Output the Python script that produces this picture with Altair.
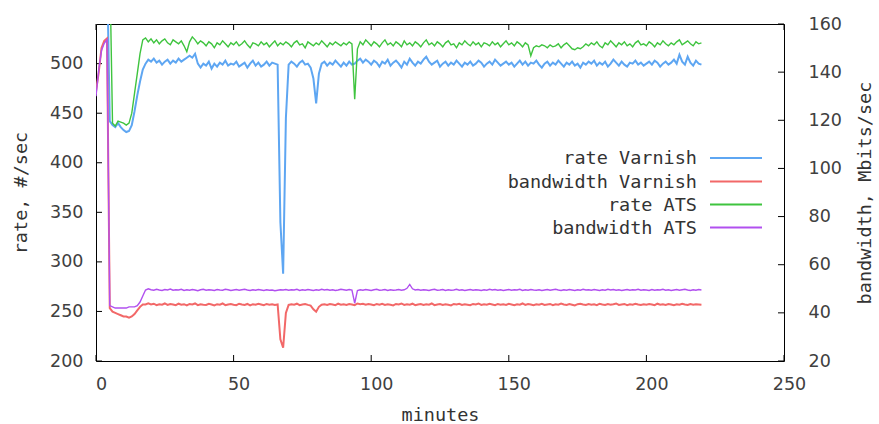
import altair as alt
import pandas as pd

minutes = list(range(0, 221))

rate_varnish = [
    600, 600, 600, 600, 600,
    442, 438, 436, 440, 436, 433, 431, 432, 438,
    452, 468, 482, 494, 500, 504,
    502, 505, 501, 503, 499, 502, 504, 500, 503, 501,
    505, 502, 504, 506, 508, 506, 510, 500, 496, 500,
    498, 502, 495, 500, 497, 501, 499, 503, 498, 500,
    499, 502, 497, 499, 501, 496, 500, 503, 498, 501,
    497, 499, 502, 498, 501, 500, 499, 340, 288, 445,
    499, 502, 500, 497, 501, 503, 499, 500, 496, 485,
    460, 490, 500, 502, 498, 501, 499, 503, 500, 497,
    501, 498, 502, 499, 500, 503, 505, 501, 504, 502,
    499, 503, 501, 497, 502, 500, 504, 498, 501, 503,
    500, 496, 502, 499, 505, 501, 498, 502, 500, 504,
    507, 502, 499, 501, 503, 497, 500, 502, 498, 501,
    499, 503, 500, 497, 501, 499, 502, 498, 500, 503,
    501, 497, 500, 502, 499, 504, 501, 498, 500, 502,
    499, 501, 497, 500, 503, 499, 502, 498, 501, 500,
    503, 499, 496, 500, 502, 498, 501, 499, 503, 500,
    497, 501, 499, 502, 498, 500, 496, 501, 499, 502,
    500, 503, 498, 501, 499, 502, 497, 500, 504, 501,
    498, 502, 499, 497, 501, 500, 503, 499, 501, 498,
    500, 502, 499, 503, 501, 497, 500, 502, 499, 501,
    504, 500, 509, 502, 499, 507, 501, 498, 503, 500,
    499,
]

bw_varnish = [
    132, 140, 150, 153, 154,
    42, 40.5, 40, 39.5, 39, 38.5, 38.5, 38, 38.5,
    39.5, 41, 42.5, 43.5, 43.5, 44,
    43.5, 43.8, 43.2, 43.6, 43.4, 43.9, 43.3, 43.7, 43.5, 43.2,
    43.8, 43.4, 43.6, 43.1, 43.7, 43.5, 43.9, 43.2, 43.6, 43.4,
    43.3, 43.8, 43.5, 43.1, 43.6, 43.4, 43.9, 43.2, 43.5, 43.7,
    43.4, 43.2, 43.8, 43.5, 43.3, 43.7, 43.1, 43.6, 43.4, 43.8,
    43.5, 43.2, 43.7, 43.4, 43.6, 43.3, 43.5, 29, 25.5, 40,
    43.3, 43.6, 43.4, 43.8, 43.2, 43.5, 43.7, 43.3, 43.0, 41.5,
    40.5, 42.5, 43.4, 43.6, 43.3, 43.7, 43.5, 43.2, 43.8, 43.4,
    43.6, 43.3, 43.7, 43.5, 43.2, 43.9, 43.6, 43.8, 43.4, 43.7,
    43.5, 43.2, 43.7, 43.4, 43.8, 43.3, 43.6, 43.4, 43.1, 43.7,
    43.5, 43.9, 43.3, 43.6, 43.4, 43.8, 43.2, 43.5, 43.7, 43.3,
    43.6, 43.4, 43.9, 43.2, 43.5, 43.7, 43.3, 43.6, 43.4, 43.1,
    43.7, 43.5, 43.8, 43.3, 43.6, 43.4, 43.2, 43.7, 43.5, 43.9,
    43.3, 43.6, 43.4, 43.8, 43.5, 43.2, 43.7, 43.4, 43.6, 43.3,
    43.8, 43.5, 43.2, 43.6, 43.4, 43.9, 43.3, 43.7, 43.5, 43.2,
    43.6, 43.4, 43.8, 43.3, 43.5, 43.7, 43.2, 43.6, 43.4, 43.9,
    43.5, 43.3, 43.7, 43.4, 43.1, 43.6, 43.8, 43.5, 43.3, 43.7,
    43.4, 43.6, 43.2, 43.8, 43.5, 43.3, 43.7, 43.4, 43.6, 43.9,
    43.3, 43.5, 43.7, 43.2, 43.6, 43.4, 43.8, 43.5, 43.3, 43.6,
    43.4, 43.7, 43.5, 43.2, 43.8, 43.4, 43.6, 43.3, 43.7, 43.5,
    43.2, 43.6, 43.4, 43.8, 43.5, 43.3, 43.7, 43.4, 43.6, 43.5,
    43.4,
]

rate_ats = [
    600, 600, 600, 600, 600, 600,
    440, 437, 442, 441, 440, 438, 440, 450,
    470, 490, 510, 524, 526, 522,
    525, 521, 524, 520, 523, 525, 521, 519, 524, 522,
    520, 523, 518, 512, 522, 527, 524, 520, 523, 521,
    518, 522, 520, 516, 521, 519, 523, 520, 517, 521,
    519, 522, 518, 520, 523, 519, 516, 521, 520, 518,
    522, 519, 521, 517, 520, 523, 518, 521, 519, 522,
    520, 517, 521, 523, 519, 520, 516, 522, 520, 518,
    521, 519, 523, 520, 517, 521, 519, 522, 520, 518,
    521, 519, 522, 520, 464, 515, 522, 519, 524, 521,
    518, 522, 520, 517, 521, 524, 519, 521, 518, 522,
    520, 517, 523, 519, 521, 518, 522, 520, 517, 521,
    524, 519, 521, 518, 522, 520, 517, 521, 523, 519,
    520, 516, 521, 519, 523, 520, 518, 522, 519, 521,
    517, 521, 520, 518, 522, 519, 521, 517, 520, 523,
    519, 521, 518, 522, 520, 517, 521, 519, 508, 516,
    518, 517, 519, 518, 516, 519, 517, 518, 520, 516,
    519, 521, 518, 515, 514, 516, 515, 517, 520, 518,
    521, 519, 522, 518, 516, 521, 519, 523, 520, 517,
    521, 519, 522, 518, 520, 517, 521, 523, 519, 520,
    518, 522, 520, 517, 521, 519, 523, 520, 518, 521,
    519, 522, 524, 519, 521, 523, 520, 518, 522, 520,
    521,
]

bw_ats = [
    130, 141, 149, 152, 153.5,
    43, 42.5, 42, 42, 42, 42, 42, 42.5, 42.5, 42.5, 43,
    44.5, 47, 49.5, 50,
    49.6, 49.4, 49.8, 49.5, 49.3, 49.7, 49.5, 49.9, 49.4, 49.6,
    49.5, 49.8, 49.3, 49.6, 49.4, 49.7, 49.5, 49.2, 49.6, 49.8,
    49.4, 49.6, 49.5, 49.3, 49.7, 49.5, 49.4, 49.8, 49.6, 49.3,
    49.5, 49.7, 49.4, 49.6, 49.8, 49.5, 49.3, 49.6, 49.4, 49.7,
    49.5, 49.3, 49.6, 49.4, 49.5, 49.2, 49.4, 49.6, 49.5, 49.7,
    49.4, 49.6, 49.5, 49.8, 49.3, 49.6, 49.4, 49.7, 49.5, 49.3,
    49.6, 49.4, 49.8, 49.5, 49.7, 49.4, 49.6, 49.3, 49.5, 49.8,
    49.6, 49.4, 49.7, 49.5, 44.0, 49.3, 49.6, 49.4, 49.7, 49.5,
    49.3, 49.6, 49.8, 49.4, 49.5, 49.7, 49.3, 49.6, 49.4, 49.5,
    49.7, 49.4, 49.6, 50.2, 51.8, 50.0, 49.5, 49.7, 49.4, 49.6,
    49.5, 49.3, 49.6, 49.8, 49.4, 49.5, 49.7, 49.3, 49.6, 49.4,
    49.5, 49.8, 49.4, 49.6, 49.3, 49.5, 49.7, 49.4, 49.6, 49.5,
    49.3, 49.6, 49.4, 49.8, 49.5, 49.7, 49.4, 49.6, 49.3, 49.5,
    49.7, 49.4, 49.6, 49.5, 49.8, 49.3, 49.6, 49.4, 49.7, 49.5,
    49.4, 49.6, 49.3, 49.5, 49.7, 49.4, 49.6, 49.8, 49.5, 49.3,
    49.6, 49.4, 49.7, 49.5, 49.3, 49.6, 49.4, 49.8, 49.5, 49.6,
    49.4, 49.7, 49.5, 49.3, 49.6, 49.4, 49.8, 49.5, 49.7, 49.4,
    49.6, 49.3, 49.5, 49.7, 49.4, 49.6, 49.5, 49.8, 49.4, 49.6,
    49.5, 49.3, 49.7, 49.4, 49.6, 49.5, 49.8, 49.4, 49.6, 49.3,
    49.5, 49.7, 49.4, 49.6, 49.8, 49.5, 49.3, 49.6, 49.4, 49.7,
    49.5,
]

for s in (rate_varnish, bw_varnish, rate_ats, bw_ats):
    assert len(s) == len(minutes), len(s)

series_names = ["rate Varnish", "bandwidth Varnish", "rate ATS", "bandwidth ATS"]
series_colors = ["#5ea6f2", "#f26868", "#3fc43f", "#b150ef"]
series_widths = [2.0, 2.0, 1.4, 1.4]

x_ticks = [0, 50, 100, 150, 200, 250]
rate_ticks = [200, 250, 300, 350, 400, 450, 500]
bw_ticks = [20, 40, 60, 80, 100, 120, 140, 160]

W, H = 688, 337
MONO = "DejaVu Sans Mono"
SANS = "DejaVu Sans"

df = pd.DataFrame({
    "minutes": minutes,
    "rate_varnish": rate_varnish,
    "bw_varnish": bw_varnish,
    "rate_ats": rate_ats,
    "bw_ats": bw_ats,
})

x_scale = alt.Scale(domain=[0, 250], nice=False, zero=False)
rate_scale = alt.Scale(domain=[200, 540], nice=False, zero=False)
bw_scale = alt.Scale(domain=[20, 160], nice=False, zero=False)

label_style = dict(labelFont=SANS, labelFontSize=17.5, labelColor="#404040",
                   titleFont=MONO, titleFontSize=18.5, titleFontWeight="normal",
                   titleColor="#333333", domain=False, ticks=False, tickSize=0,
                   grid=False, labelOverlap=False)

x_axis = alt.Axis(values=x_ticks, title="minutes", orient="bottom",
                  labelPadding=14, labelOffset=5, labelFlush=False,
                  titleX=344, titleY=53, titleAlign="center", titleBaseline="middle",
                  **label_style)
left_axis = alt.Axis(values=rate_ticks, title="rate, #/sec", orient="left",
                     labelPadding=13, titleAngle=270, titleX=-76, titleY=168.5,
                     titleAlign="center", titleBaseline="middle", **label_style)
right_axis = alt.Axis(values=bw_ticks, title="bandwidth, Mbits/sec", orient="right",
                      labelPadding=24, titleAngle=270, titleX=80, titleY=168.5,
                      titleAlign="center", titleBaseline="middle", **label_style)

X = alt.X("minutes:Q", scale=x_scale, axis=x_axis)
base = alt.Chart(df)


def line(field, idx, scale, axis):
    return base.mark_line(clip=True, color=series_colors[idx],
                          strokeWidth=series_widths[idx]).encode(
        x=X,
        y=alt.Y(f"{field}:Q", scale=scale, axis=axis),
    )


blue = line("rate_varnish", 0, rate_scale, left_axis)
green = line("rate_ats", 2, rate_scale, left_axis)
red = line("bw_varnish", 1, bw_scale, right_axis)
purple = line("bw_ats", 3, bw_scale, right_axis)

tick_len = 6
left_ticks = alt.Chart(pd.DataFrame({"v": rate_ticks})).mark_rule(color="black").encode(
    y=alt.Y("v:Q", scale=rate_scale, axis=left_axis), x=alt.value(0), x2=alt.value(tick_len))
right_ticks = alt.Chart(pd.DataFrame({"v": bw_ticks})).mark_rule(color="black").encode(
    y=alt.Y("v:Q", scale=bw_scale, axis=right_axis), x=alt.value(W), x2=alt.value(W - tick_len))
xt = pd.DataFrame({"v": x_ticks})
bottom_ticks = alt.Chart(xt).mark_rule(color="black").encode(
    x=alt.X("v:Q", scale=x_scale, axis=x_axis), y=alt.value(H), y2=alt.value(H - tick_len))
top_ticks = alt.Chart(xt).mark_rule(color="black").encode(
    x=alt.X("v:Q", scale=x_scale, axis=x_axis), y=alt.value(0), y2=alt.value(tick_len))

left_layer = alt.layer(blue, green, left_ticks, bottom_ticks, top_ticks)
right_layer = alt.layer(red, purple, right_ticks)

legend_layers = []
legend_y = [134, 157.5, 180.5, 203.5]
for i, name in enumerate(series_names):
    ldf = pd.DataFrame({"t": [name]})
    legend_layers.append(
        alt.Chart(ldf).mark_text(align="right", baseline="middle", font=MONO,
                                 fontSize=18.5, color="#333333").encode(
            text="t:N", x=alt.value(601), y=alt.value(legend_y[i])))
    legend_layers.append(
        alt.Chart(ldf).mark_rule(color=series_colors[i], strokeWidth=2).encode(
            x=alt.value(614), x2=alt.value(666), y=alt.value(legend_y[i])))

chart = alt.layer(left_layer, right_layer, *legend_layers).resolve_scale(
    y="independent"
).properties(
    width=W, height=H,
    padding={"left": 96, "top": 24, "right": 95, "bottom": 63},
    autosize=alt.AutoSizeParams(type="none"),
    background="white",
).configure_view(stroke="black", strokeWidth=1)

chart.save("out.html", embed_options={"renderer": "svg", "actions": False})
